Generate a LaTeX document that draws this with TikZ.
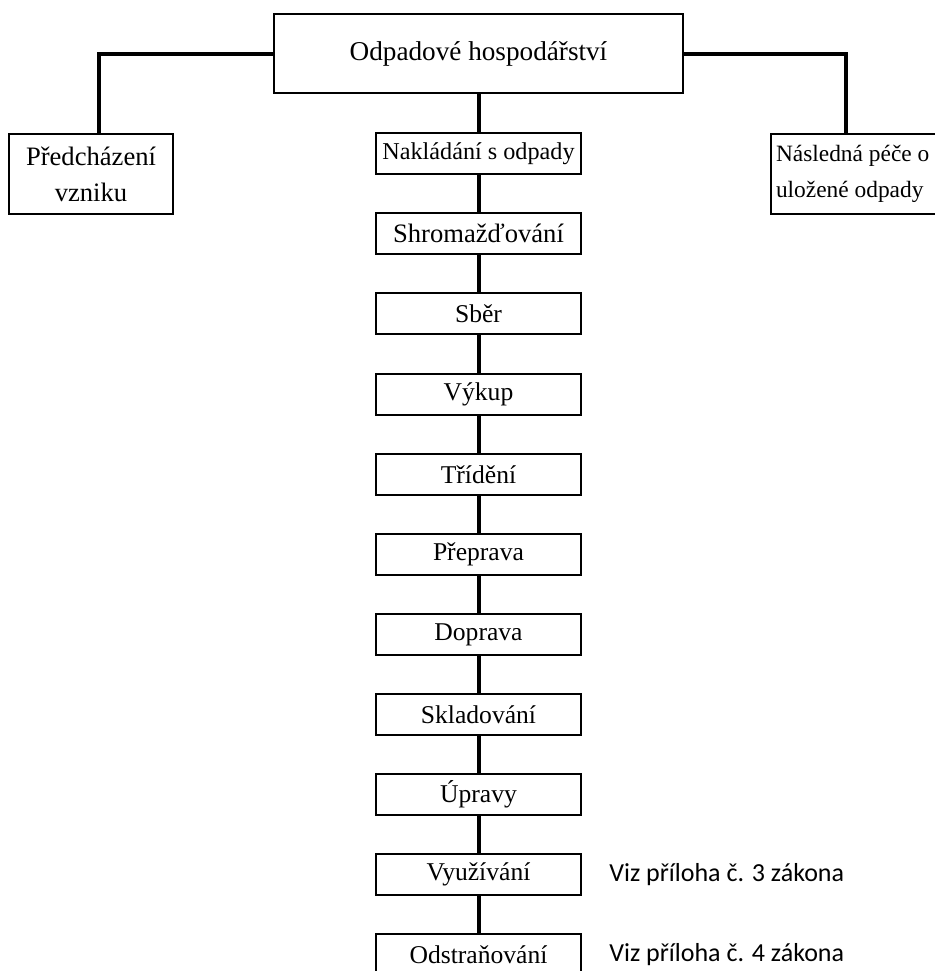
\documentclass[tikz,border=0pt]{standalone}
\usepackage{fontspec}
\setmainfont{Liberation Serif}
\newfontfamily\notefont{Carlito}
\begin{document}
\begin{tikzpicture}[x=0.5pt,y=-0.5pt,
  box/.style={draw=black, line width=1pt, rectangle, fill=white, inner sep=0pt,
    font=\fontsize{12.8}{18}\selectfont, minimum width=102.5pt, minimum height=20.5pt},
  link/.style={line width=2pt, draw=black},
  note/.style={anchor=west, inner sep=0pt, font=\notefont\fontsize{13}{16}\selectfont}]
\useasboundingbox (0,0) rectangle (935,971);
\fill[white] (0,0) rectangle (935,971);

\node[box, minimum width=204.5pt, minimum height=39.5pt, font=\fontsize{13.6}{18}\selectfont] (top) at (478.5,53.5) {Odpadové hospodářství};
\node[box, minimum width=82pt, minimum height=40pt, align=center, font=\fontsize{13.3}{18}\selectfont] (prev) at (91,174) {Předcházení\\vzniku};
\node[box, anchor=west, minimum width=0pt, minimum height=40pt, align=left, inner xsep=2.5pt, font=\fontsize{11.7}{18}\selectfont] (after) at (770,174) {\makebox[86pt][l]{Následná péče o}\\\makebox[86pt][l]{uložené odpady}};

\node[box, font=\fontsize{12.1}{18}\selectfont] (nak) at (478.5,153.5) {Nakládání s odpady};
\node[box, font=\fontsize{13.3}{18}\selectfont] (b1) at (478.5,233.3) {Shromažďování};
\node[box] (b2) at (478.5,313.6) {Sběr};
\node[box] (b3) at (478.5,394) {Výkup};
\node[box] (b4) at (478.5,474.5) {Třídění};
\node[box] (b5) at (478.5,554.5) {Přeprava};
\node[box] (b6) at (478.5,634.5) {Doprava};
\node[box] (b7) at (478.5,714.5) {Skladování};
\node[box] (b8) at (478.5,794.5) {Úpravy};
\node[box] (b9) at (478.5,874.5) {Využívání};
\node[box] (b10) at (478.5,954.5) {Odstraňování};

\node[note] (n1) at (609,874.5) {Viz příloha č. 3 zákona};
\node[note] (n2) at (609,954.5) {Viz příloha č. 4 zákona};

\draw[link] (top.west) -| ([xshift=4pt]prev.north);
\draw[link] (top.east) -| ([xshift=38pt]after.north west);
\draw[link] (top.south) -- (nak.north);
\draw[link] (nak.south) -- (b1.north);
\foreach \a/\b in {b1/b2,b2/b3,b3/b4,b4/b5,b5/b6,b6/b7,b7/b8,b8/b9,b9/b10}
  \draw[link] (\a.south) -- (\b.north);
\end{tikzpicture}
\end{document}
